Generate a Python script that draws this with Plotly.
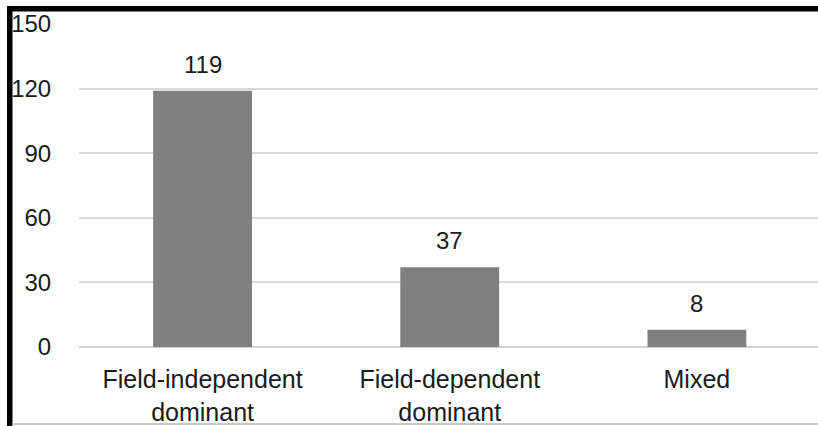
import plotly.graph_objects as go

categories = ["Field-independent<br>dominant", "Field-dependent<br>dominant", "Mixed"]
values = [119, 37, 8]
tick_vals = [0, 30, 60, 90, 120, 150]
tick_text = ["0", "30", "60", "90", "120", "150"]

W, H = 818, 426
L, R, T, B = 79, 0, 24, 79
pw, ph = W - L - R, H - T - B

FONT = "Liberation Sans, Arial, sans-serif"
TXT = "#1a1a1a"

fig = go.Figure()
fig.add_trace(go.Bar(
    x=list(range(len(categories))), y=values, width=0.4,
    marker=dict(color="#808080", line=dict(width=0)),
    hoverinfo="skip",
))

for i, v in enumerate(values):
    fig.add_annotation(x=i, y=v, xref="x", yref="y", text=str(v),
                       showarrow=False, yanchor="bottom", yshift=11,
                       font=dict(family=FONT, size=24, color=TXT))

def px(x):
    return (x - L) / pw

def py(y):
    return (H - B - y) / ph

shapes = [
    dict(type="rect", xref="paper", yref="paper", x0=px(7), x1=px(12.5), y0=py(430), y1=py(6),
         fillcolor="black", line=dict(width=0), layer="above"),
    dict(type="rect", xref="paper", yref="paper", x0=px(7), x1=px(830), y0=py(11.5), y1=py(6),
         fillcolor="black", line=dict(width=0), layer="above"),
    dict(type="line", xref="paper", yref="paper", x0=px(12), x1=px(830), y0=py(424), y1=py(424),
         line=dict(color="#c8c8c8", width=2), layer="above"),
]

fig.update_layout(
    width=W, height=H,
    margin=dict(l=L, r=R, t=T, b=B, pad=0, autoexpand=False),
    paper_bgcolor="white", plot_bgcolor="white",
    showlegend=False, bargap=0.6,
    shapes=shapes,
    xaxis=dict(
        tickvals=list(range(len(categories))), ticktext=categories,
        range=[-0.5, 2.49], showgrid=False, zeroline=False, showline=False,
        ticks="outside", ticklen=10, tickcolor="rgba(0,0,0,0)", automargin=False,
        tickfont=dict(family=FONT, size=25, color=TXT),
    ),
    yaxis=dict(
        range=[0, 150], tickvals=tick_vals, ticktext=tick_text, automargin=False,
        showgrid=True, gridcolor="#d9d9d9", gridwidth=2,
        zeroline=True, zerolinecolor="#d0d0d0", zerolinewidth=2,
        showline=False, ticks="outside", ticklen=22, tickcolor="rgba(0,0,0,0)",
        tickfont=dict(family=FONT, size=24, color=TXT),
    ),
)

fig.write_html("out.html")
